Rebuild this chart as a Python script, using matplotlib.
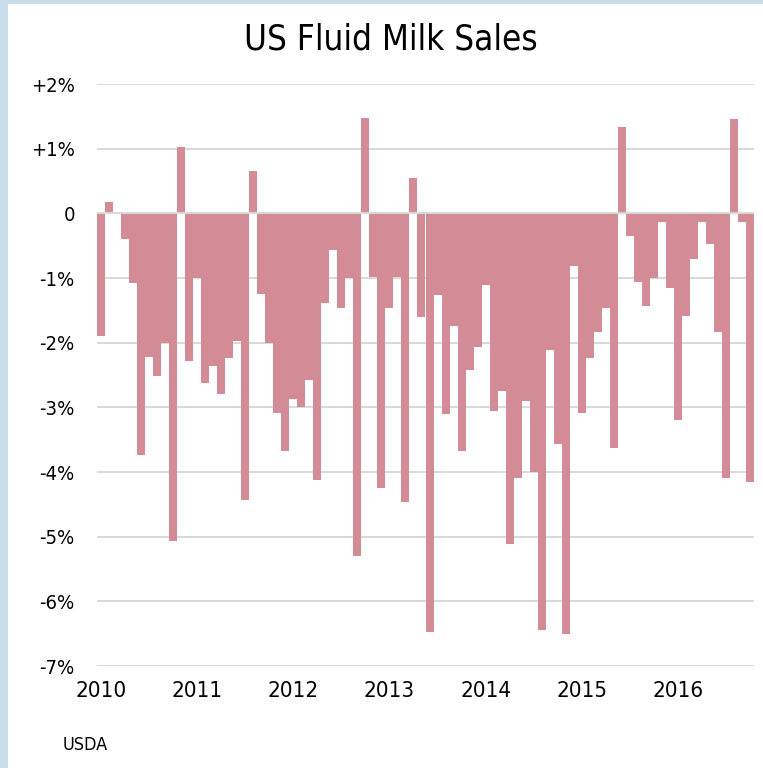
import matplotlib
matplotlib.use("Agg")
import matplotlib.pyplot as plt
from matplotlib.patches import Rectangle

# monthly change in US fluid milk sales, Jan 2010 - Oct 2016 (%)
sales_2010 = [-1.90, 0.18, 0.0, -0.40, -1.08, -3.74, -2.22, -2.51, -2.00, -5.06, 1.02, -2.29]
sales_2011 = [-1.00, -2.63, -2.36, -2.79, -2.24, -1.98, -4.43, 0.66, -1.24, -2.00, -3.09, -3.67]
sales_2012 = [-2.87, -3.00, -2.58, -4.13, -1.39, -0.56, -1.47, -1.00, -5.30, 1.48, -0.99, -4.25]
sales_2013 = [-1.47, -0.99, -4.46, 0.54, -1.61, -6.48, -1.27, -3.10, -1.74, -3.68, -2.42, -2.06]
sales_2014 = [-1.11, -3.06, -2.74, -5.12, -4.09, -2.90, -4.00, -6.44, -2.11, -3.56, -6.50, -0.82]
sales_2015 = [-3.08, -2.23, -1.83, -1.46, -3.63, 1.33, -0.35, -1.06, -1.43, -1.00, -0.13, -1.15]
sales_2016 = [-3.19, -1.58, -0.71, -0.13, -0.47, -1.84, -4.09, 1.46, -0.13, -4.16]

values = sales_2010 + sales_2011 + sales_2012 + sales_2013 + sales_2014 + sales_2015 + sales_2016
years = ["2010", "2011", "2012", "2013", "2014", "2015", "2016"]
y_ticks = [2, 1, 0, -1, -2, -3, -4, -5, -6, -7]
y_labels = ["+2%", "+1%", "0", "-1%", "-2%", "-3%", "-4%", "-5%", "-6%", "-7%"]

plt.rcParams["font.family"] = ["DejaVu Sans"]
plt.rcParams["font.stretch"] = "condensed"

fig = plt.figure(figsize=(7.63, 7.68), dpi=100)
fig.patch.set_facecolor("#C9DCEA")
# white panel inside the light blue frame
fig.patches.append(Rectangle((8 / 763, 0), 1, 1 - 4 / 768, transform=fig.transFigure,
                             facecolor="white", edgecolor="none", zorder=-5))

ax = fig.add_axes([97 / 763, 1 - 666 / 768, (754 - 97) / 763, (666 - 84) / 768])
ax.set_zorder(2)
ax.set_facecolor("white")

x = list(range(len(values)))
ax.bar(x, values, width=1.0, color="#D38B96", linewidth=0, zorder=2)
ax.axhline(0, color="#D9D9D9", linewidth=1.4, zorder=3)

ax.set_xlim(-0.5, len(values) - 0.5)
ax.set_ylim(-7, 2)
ax.set_yticks(y_ticks)
ax.set_yticklabels(y_labels, fontsize=14.5)
ax.set_xticks([12 * i for i in range(len(years))])
ax.set_xticklabels(years, fontsize=16)

ax.grid(axis="y", color="#D9D9D9", linewidth=1.4, zorder=0)
ax.set_axisbelow(True)
ax.tick_params(axis="both", length=0)
ax.tick_params(axis="y", pad=16)
ax.tick_params(axis="x", pad=11)
for s in ax.spines.values():
    s.set_visible(False)

fig.text(0.512, 1 - 40 / 768, "US Fluid Milk Sales", ha="center", va="center", fontsize=25)
fig.text(63 / 763, 1 - 745 / 768, "USDA", ha="left", va="center", fontsize=13)

fig.savefig("out.png", dpi=100)
